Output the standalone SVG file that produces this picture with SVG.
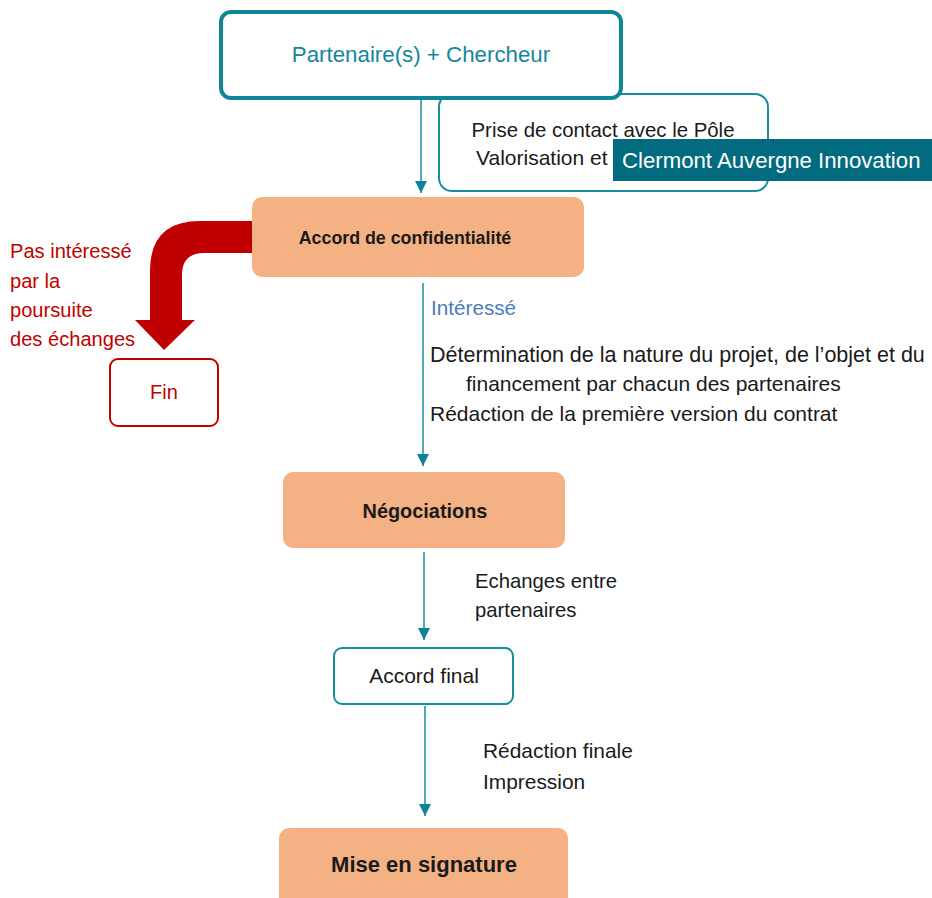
<svg xmlns="http://www.w3.org/2000/svg" width="932" height="898" viewBox="0 0 932 898">
<style>
text{font-family:"Liberation Sans",Arial,sans-serif;fill:#1a1a1a}
.teal{fill:#14879b}
.c{text-anchor:middle}
.b{font-weight:bold}
.red{fill:#c00000}
.orange{fill:#f4b183;stroke:none}
.conn{stroke:#1b8ba0;stroke-width:1.5;fill:none}
</style>
<defs>
<marker id="ah" viewBox="0 0 10 10" refX="10" refY="5" markerWidth="12" markerHeight="12" markerUnits="userSpaceOnUse" orient="auto">
<path d="M0,0 L10,5 L0,10 Z" fill="#0f8297"/>
</marker>
</defs>
<g id="prise">
<rect x="439" y="94" width="329" height="97" rx="13" fill="#fff" stroke="#1b8ba0" stroke-width="2"/>
<text x="603" y="137" class="c" font-size="20.4">Prise de contact avec le Pôle</text>
<text x="476" y="165" font-size="21">Valorisation et</text>
</g>
<g id="partenaires">
<rect x="221" y="12" width="400" height="86" rx="10" fill="#fff" stroke="#0e8599" stroke-width="4"/>
<text x="421" y="62" class="c teal" font-size="22.3">Partenaire(s) + Chercheur</text>
</g>
<g id="cai">
<rect x="613" y="139" width="319" height="42" fill="#036b7f"/>
<text x="622" y="168" font-size="22.2" style="fill:#fff">Clermont Auvergne Innovation</text>
</g>
<g id="connectors">
<line x1="421" y1="100" x2="421" y2="193" class="conn" marker-end="url(#ah)"/>
<line x1="423" y1="283" x2="423" y2="466" class="conn" marker-end="url(#ah)"/>
<line x1="424" y1="552" x2="424" y2="640" class="conn" marker-end="url(#ah)"/>
<line x1="425" y1="706" x2="425" y2="816" class="conn" marker-end="url(#ah)"/>
<path d="M252,221 L200,221 Q150,221 150,271 L150,320 L135,320 L164,350 L195,320 L182,320 L182,275 Q182,253 204,253 L252,253 Z" fill="#c00000"/>
</g>
<g id="accord-confidentialite">
<rect x="252" y="197" width="332" height="80" rx="10" class="orange"/>
<text x="405" y="244" class="c b" font-size="17.8">Accord de confidentialité</text>
</g>
<g id="pas-interesse">
<text x="10" y="258" class="red" font-size="20.1">Pas intéressé</text>
<text x="10" y="288" class="red" font-size="20.1">par la</text>
<text x="10" y="317" class="red" font-size="20.1">poursuite</text>
<text x="10" y="346" class="red" font-size="20.1">des échanges</text>
</g>
<g id="fin">
<rect x="110" y="359" width="108" height="67" rx="8" fill="#fff" stroke="#c00000" stroke-width="2"/>
<text x="164" y="399" class="c red" font-size="20">Fin</text>
</g>
<g id="interesse-labels">
<text x="431" y="315" font-size="20.7" style="fill:#4a7ebb">Intéressé</text>
<text x="430" y="362" font-size="21.5">Détermination de la nature du projet, de l’objet et du</text>
<text x="466" y="391" font-size="21">financement par chacun des partenaires</text>
<text x="430" y="421" font-size="21">Rédaction de la première version du contrat</text>
</g>
<g id="negociations">
<rect x="283" y="472" width="282" height="76" rx="10" class="orange"/>
<text x="425" y="518" class="c b" font-size="19.9">Négociations</text>
</g>
<g id="echanges-labels">
<text x="475" y="588" font-size="20.3">Echanges entre</text>
<text x="475" y="617" font-size="20.3">partenaires</text>
</g>
<g id="accord-final">
<rect x="334" y="648" width="179" height="56" rx="8" fill="#fff" stroke="#1b8ba0" stroke-width="2"/>
<text x="424" y="683" class="c" font-size="21">Accord final</text>
</g>
<g id="redaction-labels">
<text x="483" y="758" font-size="20.9">Rédaction finale</text>
<text x="483" y="789" font-size="20.9">Impression</text>
</g>
<g id="mise-en-signature">
<rect x="279" y="828" width="289" height="84" rx="10" class="orange"/>
<text x="424" y="872" class="c b" font-size="22">Mise en signature</text>
</g>
</svg>
